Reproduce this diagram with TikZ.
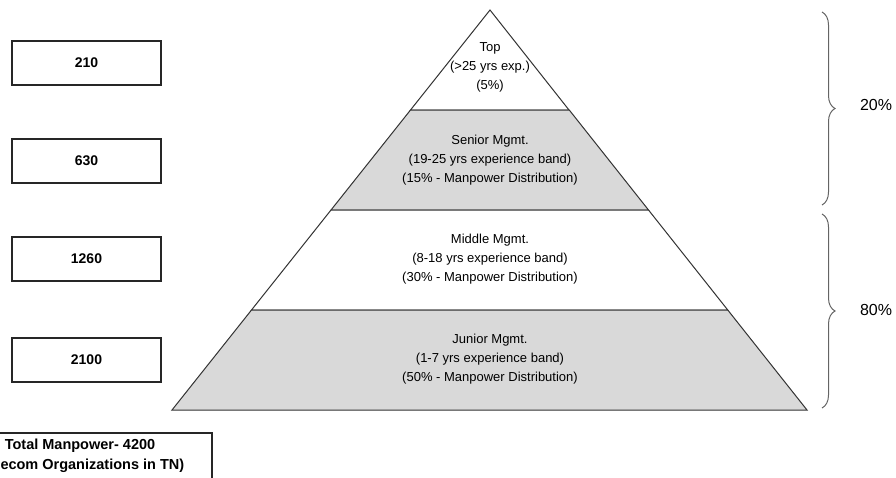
\documentclass[tikz,border=0pt]{standalone}
\usepackage{fontspec}
\setmainfont{Liberation Sans}
\usetikzlibrary{decorations.pathreplacing}
\definecolor{pyrgray}{RGB}{217,217,217}
\definecolor{brcgray}{RGB}{100,100,100}

\begin{document}
\begin{tikzpicture}[x=1pt,y=-1pt,
  numbox/.style={draw=black!85,line width=1.1pt,minimum width=149pt,minimum height=44pt,
    inner sep=0pt,font=\fontsize{14}{16}\selectfont\bfseries},
  layer/.style={draw=black!80,line width=1pt},
  lbl/.style={align=center,font=\fontsize{13}{19}\selectfont},
  brc/.style={draw=brcgray,line width=1pt,decorate,decoration={brace,amplitude=13pt}},
  pct/.style={font=\fontsize{16}{18}\selectfont}]
  \useasboundingbox (0,0) rectangle (896,477);

  \draw[layer,fill=white] (490,10) -- (569,110) -- (410.5,110) -- cycle;
  \foreach \t/\b/\f in {110/210/pyrgray,210/310/white,310/410/pyrgray}
  {
    \draw[layer,fill=\f] ({490-0.795*(\t-10)},\t) -- ({490+0.7925*(\t-10)},\t)
      -- ({490+0.7925*(\b-10)},\b) -- ({490-0.795*(\b-10)},\b) -- cycle;
  }

  \node[lbl] (top) at (490,67) {Top\\(>25 yrs exp.)\\(5\%)};
  \node[lbl] (senior) at (490,160) {Senior Mgmt.\\(19-25 yrs experience band)\\(15\% - Manpower Distribution)};
  \node[lbl] (middle) at (490,259) {Middle Mgmt.\\(8-18 yrs experience band)\\(30\% - Manpower Distribution)};
  \node[lbl] (junior) at (490,359) {Junior Mgmt.\\(1-7 yrs experience band)\\(50\% - Manpower Distribution)};

  \foreach \y/\n in {63/210,161/630,259/1260,360/2100}
    \node[numbox] (n\n) at (86.5,\y) {\n};

  \node[numbox,minimum width=264pt,minimum height=46pt,align=center,
    font=\fontsize{14.5}{20}\selectfont\bfseries] (total) at (80,456)
    {Total Manpower- 4200\\(Telecom Organizations in TN)};

  \coordinate (b1a) at (822,12);
  \coordinate (b1b) at (822,205);
  \coordinate (b2a) at (822,214);
  \coordinate (b2b) at (822,408);
  \draw[brc] (b1a) -- (b1b);
  \draw[brc] (b2a) -- (b2b);
  \node[pct] (p20) at (876,105) {20\%};
  \node[pct] (p80) at (876,310) {80\%};
\end{tikzpicture}
\end{document}
